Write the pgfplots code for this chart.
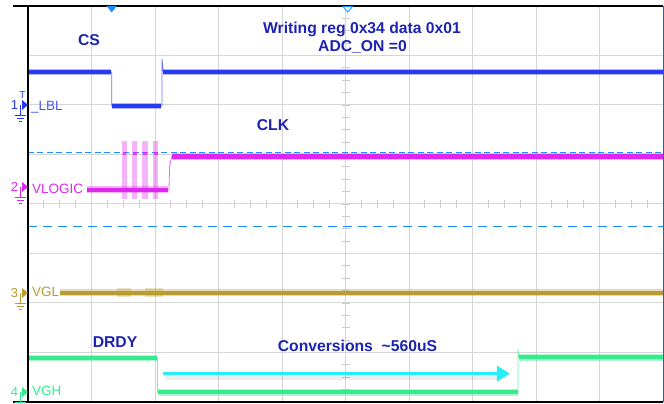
\documentclass[border=0pt]{standalone}
\usepackage{pgfplots}
\pgfplotsset{compat=1.18}
\usepackage{fontspec}
\setmainfont{Liberation Sans}
\usetikzlibrary{arrows.meta}
\definecolor{csblue}{RGB}{38,58,242}
\definecolor{clkmag}{RGB}{222,40,240}
\definecolor{vglol}{RGB}{186,156,48}
\definecolor{vghgr}{RGB}{52,236,140}
\definecolor{arrcyan}{RGB}{40,236,246}
\definecolor{curblue}{RGB}{30,140,255}
\definecolor{txtblue}{RGB}{28,34,178}
\definecolor{gridgray}{RGB}{214,214,214}
\definecolor{edgeblue}{RGB}{60,90,170}
\newcommand{\chmark}[3]{%
  \node[#1, font=\fontsize{13}{13}\selectfont, anchor=base, inner sep=0pt] at (14.5,#3+5) {#2};
  \fill[#1] (22,#3-5) -- (28,#3) -- (22,#3+5) -- cycle;
  \draw[#1, line width=0.8pt] (20,#3) -- (20,#3+10) (14.5,#3+10)--(25.5,#3+10) (16.5,#3+13)--(23.5,#3+13) (18.5,#3+16)--(21.5,#3+16);
}
\begin{document}
\begin{tikzpicture}
\useasboundingbox (0,0) rectangle (664pt,404pt);
% centre-line subdivision ticks (below traces)
\begin{scope}[x=1pt,y=-1pt,shift={(0pt,404pt)}]
  \foreach \k in {1,...,31} {\draw[gridgray!85!gray, line width=0.8pt] (341.5,{6+12.375*\k}) -- (349.5,{6+12.375*\k});}
  \foreach \k in {1,...,39} {\draw[gridgray!85!gray, line width=0.8pt] ({28+15.875*\k},200) -- ({28+15.875*\k},208);}
\end{scope}
\begin{axis}[at={(28pt,2pt)}, anchor=south west, scale only axis,
  width=635pt, height=396pt, xmin=0, xmax=10, ymin=0, ymax=8,
  xtick={0,...,10}, ytick={0,...,8}, xticklabel=\empty, yticklabel=\empty,
  major tick length=0pt, grid=major, grid style={gridgray, line width=1pt},
  axis line style={draw=none}, clip=false, unbounded coords=jump]
% cursor lines
\addplot[curblue, line width=1.1pt, dash pattern=on 6pt off 3.5pt] coordinates {(0,5.036) (10,5.036)};
\addplot[curblue, line width=1.1pt, dash pattern=on 9pt off 6pt] coordinates {(0,3.549) (10,3.549)};
% CS
\addplot[csblue!70, line width=0.8pt] coordinates {(0,6.667)(1.32,6.667)(1.32,5.98)(2.11,5.98)(2.11,6.93)(2.13,6.667)(10,6.667)};
\addplot[csblue, opacity=0.35, line width=6pt] coordinates {(0,6.667)(1.31,6.667)(nan,nan)(1.33,5.98)(2.10,5.98)(nan,nan)(2.12,6.667)(10,6.667)};
\addplot[csblue, line width=3.2pt] coordinates {(0,6.667)(1.31,6.667)(nan,nan)(1.33,5.98)(2.10,5.98)(nan,nan)(2.12,6.667)(10,6.667)};
% CLK bursts
\addplot[fill=clkmag, fill opacity=0.35, draw=none] coordinates {(1.48,4.10)(1.56,4.10)(1.56,5.27)(1.48,5.27)} -- cycle;
\addplot[fill=clkmag, fill opacity=0.35, draw=none] coordinates {(1.64,4.10)(1.72,4.10)(1.72,5.27)(1.64,5.27)} -- cycle;
\addplot[fill=clkmag, fill opacity=0.35, draw=none] coordinates {(1.80,4.10)(1.89,4.10)(1.89,5.27)(1.80,5.27)} -- cycle;
\addplot[fill=clkmag, fill opacity=0.35, draw=none] coordinates {(1.97,4.10)(2.05,4.10)(2.05,5.27)(1.97,5.27)} -- cycle;
\addplot[clkmag, opacity=0.8, line width=3pt] coordinates {(1.49,5.03)(1.55,5.03)(nan,nan)(1.65,5.03)(1.71,5.03)(nan,nan)(1.81,5.03)(1.88,5.03)(nan,nan)(1.98,5.03)(2.04,5.03)};
% CLK
\addplot[clkmag!70, line width=0.8pt] coordinates {(0.929,4.283)(2.22,4.283)(2.23,4.75)(2.26,4.96)(10,4.96)};
\addplot[clkmag, opacity=0.35, line width=7pt] coordinates {(0.929,4.283)(2.21,4.283)(nan,nan)(2.26,4.96)(10,4.96)};
\addplot[clkmag, line width=4.5pt] coordinates {(0.929,4.283)(2.21,4.283)(nan,nan)(2.26,4.96)(10,4.96)};
% VGL
\addplot[vglol, opacity=0.3, line width=9pt] coordinates {(1.40,2.212)(1.62,2.212)(nan,nan)(1.85,2.212)(2.12,2.212)};
\addplot[vglol, opacity=0.35, line width=6.5pt] coordinates {(0.504,2.212)(10,2.212)};
\addplot[vglol, line width=4pt] coordinates {(0.504,2.212)(10,2.212)};
% VGH
\addplot[vghgr!70, line width=0.8pt] coordinates {(0,0.889)(2.039,0.889)(2.039,0.192)(7.717,0.192)(7.717,1.07)(7.73,0.899)(10,0.899)};
\addplot[vghgr, opacity=0.4, line width=6.5pt] coordinates {(0,0.889)(2.03,0.889)(nan,nan)(2.05,0.192)(7.71,0.192)(nan,nan)(7.73,0.899)(10,0.899)};
\addplot[vghgr, line width=4pt] coordinates {(0,0.889)(2.03,0.889)(nan,nan)(2.05,0.192)(7.71,0.192)(nan,nan)(7.73,0.899)(10,0.899)};
% conversion arrow
\addplot[black, opacity=0.07, line width=6pt] coordinates {(2.15,0.50)(7.45,0.50)};
\addplot[arrcyan, line width=3pt, -{Triangle[length=13pt,width=15pt]}] coordinates {(2.126,0.572)(7.59,0.572)};
\end{axis}
\begin{scope}[x=1pt,y=-1pt,shift={(0pt,404pt)}]
  % frame
  \draw[black, line width=1.5pt] (28,6) -- (28,402);
  \draw[black, line width=1.2pt] (13,6) -- (663,6);
  \draw[black, line width=1.2pt] (13,402) -- (663,402);
  \draw[edgeblue, line width=1pt] (663.3,6) -- (663.3,402);
  % top markers
  \fill[curblue] (106.7,6) -- (116.7,6) -- (111.7,12.5) -- cycle;
  \draw[curblue, line width=0.8pt, fill=white] (343,6.5) -- (352.5,6.5) -- (347.7,12) -- cycle;
  % annotations
  \begin{scope}[every node/.style={txtblue, font=\fontsize{15.7}{18}\selectfont\bfseries, anchor=base, inner sep=0pt}]
    \node at (362,33.3) {Writing reg 0x34 data 0x01};
    \node at (362.5,52) {ADC\_ON =0};
    \node at (89,46) {CS};
    \node at (273,131) {CLK};
    \node at (115,348) {DRDY};
    \node at (357.5,352) {Conversions\ \ \textasciitilde560uS};
  \end{scope}
  % channel labels
  \begin{scope}[every node/.style={font=\fontsize{13.5}{14}\selectfont, anchor=base west, inner sep=0pt}]
    \node[csblue!85] at (31,110.5) {\_LBL};
    \node[clkmag] at (32,194) {VLOGIC};
    \node[vglol] at (32,297) {VGL};
    \node[vghgr] at (32,396) {VGH};
  \end{scope}
  \chmark{csblue}{1}{105}
  \node[csblue, font=\fontsize{10}{10}\selectfont, anchor=base, inner sep=0pt] at (22.5,99) {T};
  \chmark{clkmag}{2}{187}
  \chmark{vglol}{3}{293}
  \chmark{vghgr}{4}{392}
\end{scope}
\end{tikzpicture}
\end{document}
